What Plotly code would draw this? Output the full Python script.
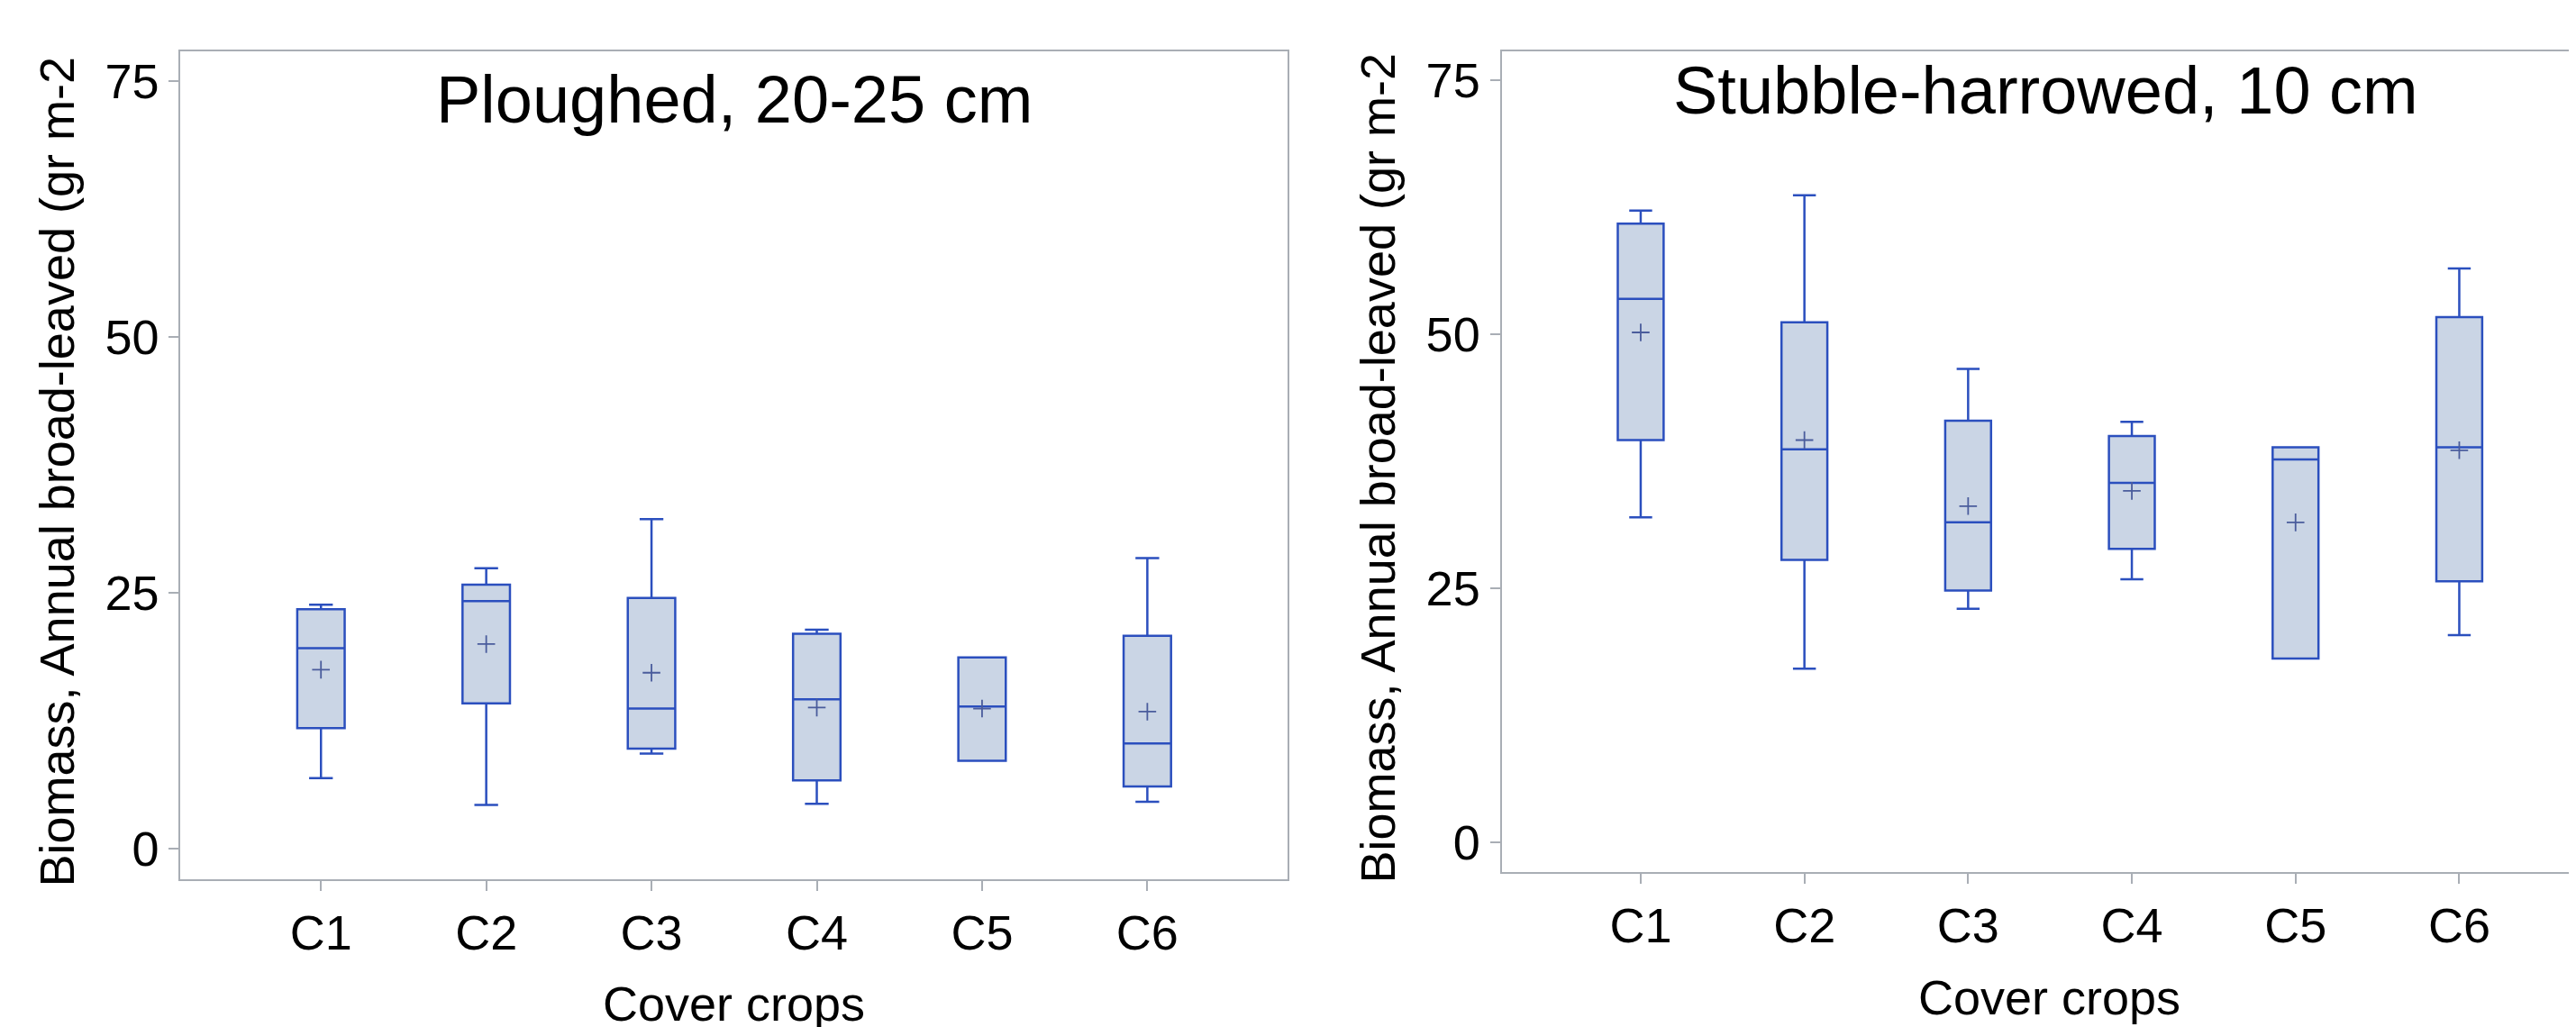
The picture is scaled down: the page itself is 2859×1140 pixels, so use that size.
import plotly.graph_objects as go

categories = ["C1", "C2", "C3", "C4", "C5", "C6"]

# Ploughed, 20-25 cm
p_min = [6.9, 4.3, 9.3, 4.4, 8.6, 4.6]
p_q1 = [11.8, 14.2, 9.8, 6.7, 8.6, 6.1]
p_med = [19.6, 24.2, 13.7, 14.6, 13.9, 10.3]
p_q3 = [23.4, 25.8, 24.5, 21.0, 18.7, 20.8]
p_max = [23.85, 27.4, 32.2, 21.4, 18.7, 28.4]
p_mean = [17.5, 20.0, 17.2, 13.8, 13.7, 13.4]

# Stubble-harrowed, 10 cm
s_min = [32.0, 17.1, 23.0, 25.9, 18.1, 20.4]
s_q1 = [39.6, 27.8, 24.8, 28.9, 18.1, 25.7]
s_med = [53.5, 38.7, 31.5, 35.4, 37.7, 38.9]
s_q3 = [60.9, 51.2, 41.5, 40.0, 38.9, 51.7]
s_max = [62.2, 63.7, 46.6, 41.4, 38.9, 56.5]
s_mean = [50.2, 39.6, 33.1, 34.6, 31.5, 38.6]

y_ticks = [0, 25, 50, 75]

titles = ["Ploughed, 20-25 cm", "Stubble-harrowed, 10 cm"]
y_title = "Biomass, Annual broad-leaved (gr m-2"
x_title = "Cover crops"

W, H = 2859, 1140
FONT = "Liberation Sans, Arial, sans-serif"
LINE = "#2B4FBE"
FILL = "#CAD5E5"
MEANC = "#4A5C9C"
AXC = "#A9AEB5"

fig = go.Figure()

def add_panel(xa, ya, q1, med, q3, lo, hi, mean, width):
    fig.add_trace(go.Box(
        x=categories, q1=q1, median=med, q3=q3, lowerfence=lo, upperfence=hi,
        fillcolor=FILL, line=dict(color=LINE, width=2.5), whiskerwidth=0.5,
        width=width, boxpoints=False, xaxis=xa, yaxis=ya, showlegend=False,
        hoverinfo="skip"))
    fig.add_trace(go.Scatter(
        x=categories, y=mean, mode="markers",
        marker=dict(symbol="cross-thin", size=14, line=dict(color=MEANC, width=1.8)),
        xaxis=xa, yaxis=ya, showlegend=False, hoverinfo="skip"))

add_panel("x", "y", p_q1, p_med, p_q3, p_min, p_max, p_mean, 0.287)
add_panel("x2", "y2", s_q1, s_med, s_q3, s_min, s_max, s_mean, 0.28)

axis_common = dict(
    showgrid=False, zeroline=False, showline=True, linecolor=AXC, linewidth=2,
    ticks="outside", ticklen=11, tickwidth=2, tickcolor=AXC,
    tickfont=dict(family=FONT, size=54, color="#000000"),
)

fig.update_layout(
    width=W, height=H,
    margin=dict(l=0, r=0, t=0, b=0),
    paper_bgcolor="white", plot_bgcolor="white",
    xaxis=dict(domain=[192.3 / W, 1421.3 / W], type="category",
               range=[-0.85, 5.85], mirror=True, anchor="y", **axis_common),
    yaxis=dict(domain=[1 - 968.4 / H, 1 - 48.7 / H], range=[-3.0, 77.9],
               tickvals=y_ticks, mirror=True, anchor="x", **axis_common),
    xaxis2=dict(domain=[1658.5 / W, 1.0], type="category",
                range=[-0.85, 5.757], mirror=True, anchor="y2", **axis_common),
    yaxis2=dict(domain=[1 - 959.7 / H, 1 - 48.7 / H], range=[-2.9, 77.9],
                tickvals=y_ticks, mirror=False, anchor="x2", **axis_common),
)

ann = []
ann.append(dict(text=titles[0], x=806.8 / W, y=1 - 103 / H, xref="paper", yref="paper",
                xanchor="center", yanchor="middle", showarrow=False,
                font=dict(family=FONT, size=74, color="#000000")))
ann.append(dict(text=titles[1], x=2262 / W, y=1 - 92 / H, xref="paper", yref="paper",
                xanchor="center", yanchor="middle", showarrow=False,
                font=dict(family=FONT, size=74, color="#000000")))
ann.append(dict(text=y_title, x=54 / W, y=1 - 516.5 / H, xref="paper", yref="paper",
                xanchor="center", yanchor="middle", textangle=-90, showarrow=False,
                font=dict(family=FONT, size=54, color="#000000")))
ann.append(dict(text=y_title, x=1520 / W, y=1 - 512.5 / H, xref="paper", yref="paper",
                xanchor="center", yanchor="middle", textangle=-90, showarrow=False,
                font=dict(family=FONT, size=54, color="#000000")))
ann.append(dict(text=x_title, x=806 / W, y=1 - 1106 / H, xref="paper", yref="paper",
                xanchor="center", yanchor="middle", showarrow=False,
                font=dict(family=FONT, size=54, color="#000000")))
ann.append(dict(text=x_title, x=2266 / W, y=1 - 1099 / H, xref="paper", yref="paper",
                xanchor="center", yanchor="middle", showarrow=False,
                font=dict(family=FONT, size=54, color="#000000")))
fig.update_layout(annotations=ann)

fig.write_html("out.html")
